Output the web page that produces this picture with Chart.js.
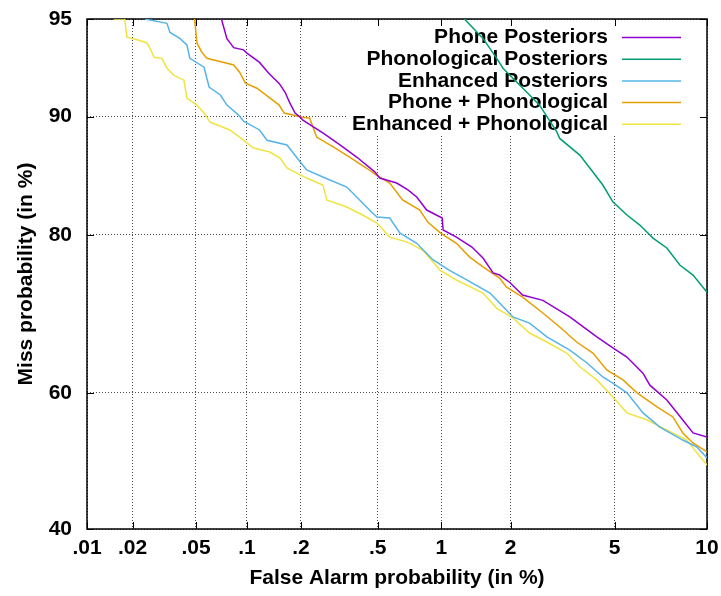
<!DOCTYPE html>
<html>
<head>
<meta charset="utf-8">
<script src="https://cdn.jsdelivr.net/npm/chart.js@4/dist/chart.umd.min.js"></script>
<style>
  html, body { margin: 0; padding: 0; background: #fff; }
  #detChart { display: block; }
</style>
</head>
<body>
<canvas id="detChart" width="721" height="596"></canvas>
<script>
// axis ticks (in %)
const xTickValues = [0.01, 0.02, 0.05, 0.1, 0.2, 0.5, 1, 2, 5, 10];
const xTickLabels = ['.01', '.02', '.05', '.1', '.2', '.5', '1', '2', '5', '10'];
const yTickValues = [40, 60, 80, 90, 95];
const yTickLabels = ['40', '60', '80', '90', '95'];

const seriesNames = ['Phone Posteriors', 'Phonological Posteriors', 'Enhanced Posteriors',
    'Phone + Phonological', 'Enhanced + Phonological'];
const seriesColors = ['#9400d3', '#009e73', '#56b4e9', '#e69f00', '#f0e442'];

// false alarm (%) / miss (%)
const phoneFA = [0.071, 0.0765, 0.0838, 0.0956, 0.1, 0.118, 0.133, 0.152, 0.164, 0.174, 0.186, 0.198,
    0.205, 0.262, 0.322, 0.392, 0.483, 0.511, 0.618, 0.7, 0.77, 0.857, 1.01, 1.02, 1.17, 1.37, 1.53,
    1.69, 1.80, 1.98, 2.24, 2.70, 3.43, 4.32, 4.93, 5.52, 6.26, 6.6, 7.5, 8.43, 9.07, 10];
const phoneMiss = [95, 94.2, 93.8, 93.7, 93.55, 93.1, 92.55, 92.0, 91.5, 90.87, 90.23, 89.97,
    89.77, 88.89, 88.02, 87.1, 85.9, 85.38, 84.95, 84.34, 83.7, 82.48, 81.7, 80.5, 79.76, 78.7, 77.5,
    75.8, 75.55, 74.7, 73.15, 72.5, 70.4, 67.8, 66.3, 65.05, 62.8, 61.1, 58.97, 56.06, 54.15, 53.55];

const phonolFA = [1.27, 1.53, 1.75, 1.86, 2.33, 2.62, 3.06, 3.14, 3.74, 4.08, 4.54, 4.93, 5.52,
    6.11, 6.76, 7.5, 8.25, 9.07, 10];
const phonolMiss = [95, 94.21, 93.3, 92.81, 91.5, 90.73, 88.96, 88.5, 87.25, 86.2, 84.78, 83.26, 82.0,
    81.0, 79.66, 78.6, 76.7, 75.55, 73.5];

const enhancedFA = [0.024, 0.0331, 0.0346, 0.0398, 0.044, 0.0459, 0.0559, 0.06, 0.07, 0.0765, 0.0895,
    0.0956, 0.118, 0.13, 0.168, 0.198, 0.215, 0.262, 0.349, 0.392, 0.455, 0.495, 0.572, 0.64, 0.77,
    0.915, 1.09, 1.30, 1.64, 1.80, 2.045, 2.39, 2.80, 3.43, 3.98, 4.54, 4.93, 5.52, 6.26, 7.12, 8.43,
    9.32, 10];
const enhancedMiss = [95, 94.83, 94.46, 94.21, 93.92, 93.3, 92.86, 91.8, 91.34, 90.73, 90.1,
    89.7, 89.1, 88.37, 88.02, 86.72, 86.06, 85.47, 84.6, 83.7, 82.48, 81.8, 81.7, 80.2, 79.1,
    77.3, 76.1, 74.97, 73.4, 72.17, 70.4, 69.6, 67.8, 66.0, 64.23, 62.27, 61.4, 60.0, 57.1, 55.0, 53.1,
    52.07, 50.45];

const phonePhonolFA = [0.049, 0.0507, 0.0543, 0.0582, 0.0735, 0.0838, 0.0907, 0.098, 0.114, 0.133,
    0.152, 0.162, 0.202, 0.223, 0.243, 0.297, 0.361, 0.44, 0.49, 0.572, 0.66, 0.796, 0.867, 0.99, 1.17,
    1.34, 1.53, 1.80, 1.92, 2.24, 2.70, 3.14, 3.64, 4.18, 4.69, 5.35, 5.98, 6.97, 7.84, 8.43, 9.07, 10];
const phonePhonolMiss = [95, 94.0, 93.58, 93.3, 93.1, 92.97, 92.6, 92.02, 91.73, 91.21,
    90.73, 90.23, 89.97, 89.9, 88.6, 87.87, 87.1, 86.2, 85.65, 84.95, 83.44, 82.48, 81.3, 80.2, 79.1,
    77.6, 76.5, 75.2, 74.13, 72.9, 70.9, 69.1, 67.1, 65.6, 63.25, 61.85, 60.0, 57.96, 56.5, 54.15, 52.67, 51.35];

const enhPhonolFA = [0.0151, 0.0178, 0.0184, 0.022, 0.0248, 0.0259, 0.0275, 0.0308, 0.0331, 0.0366,
    0.0422, 0.044, 0.0507, 0.0559, 0.0607, 0.0795, 0.0956, 0.109, 0.135, 0.154, 0.168, 0.198, 0.215,
    0.262, 0.275, 0.349, 0.42, 0.495, 0.572, 0.695, 0.82, 0.99, 1.17, 1.53, 1.75, 2.045, 2.39, 2.80,
    3.34, 3.74, 4.32, 4.93, 5.52, 6.46, 7.5, 8.68, 9.32, 10];
const enhPhonolMiss = [95, 95, 94.26, 94.13, 94.01, 93.77, 93.35, 93.3, 92.81, 92.44,
    92.18, 91.16, 90.73, 90.23, 89.64, 89.1, 88.37, 87.79, 87.49, 87.02, 86.22, 85.65, 85.38,
    84.78, 83.44, 82.77, 82.0, 81.2, 79.76, 79.23, 78.37, 76.1, 74.97, 73.4, 71.5, 70.27, 68.3, 67.1,
    65.6, 63.7, 61.85, 59.4, 57.1, 56.06, 54.6, 53.1, 51.2, 49.4];

const seriesFA = [phoneFA, phonolFA, enhancedFA, phonePhonolFA, enhPhonolFA];
const seriesMiss = [phoneMiss, phonolMiss, enhancedMiss, phonePhonolMiss, enhPhonolMiss];

const FONT = '"Liberation Sans", Arial, Helvetica, sans-serif';

/**
 * Inverse of the standard normal CDF (Acklam's approximation)
 */
function probit(p) {
    const a = [-3.969683028665376e+01, 2.209460984245205e+02, -2.759285104469687e+02,
        1.383577518672690e+02, -3.066479806614716e+01, 2.506628277459239e+00];
    const b = [-5.447609879822406e+01, 1.615858368580409e+02, -1.556989798598866e+02,
        6.680131188771972e+01, -1.328068155288572e+01];
    const c = [-7.784894002430293e-03, -3.223964580411365e-01, -2.400758277161838e+00,
        -2.549732539343734e+00, 4.374664141464968e+00, 2.938163982698783e+00];
    const d = [7.784695709041462e-03, 3.224671290700398e-01, 2.445134137142996e+00,
        3.754408661907416e+00];
    const pLow = 0.02425;
    let q, r;
    if (p < pLow) {
        q = Math.sqrt(-2 * Math.log(p));
        return (((((c[0] * q + c[1]) * q + c[2]) * q + c[3]) * q + c[4]) * q + c[5]) /
            ((((d[0] * q + d[1]) * q + d[2]) * q + d[3]) * q + 1);
    }
    if (p <= 1 - pLow) {
        q = p - 0.5;
        r = q * q;
        return (((((a[0] * r + a[1]) * r + a[2]) * r + a[3]) * r + a[4]) * r + a[5]) * q /
            (((((b[0] * r + b[1]) * r + b[2]) * r + b[3]) * r + b[4]) * r + 1);
    }
    q = Math.sqrt(-2 * Math.log(1 - p));
    return -(((((c[0] * q + c[1]) * q + c[2]) * q + c[3]) * q + c[4]) * q + c[5]) /
        ((((d[0] * q + d[1]) * q + d[2]) * q + d[3]) * q + 1);
}

const datasets = seriesNames.map((name, i) => ({
    label: name,
    data: seriesFA[i].map((fa, j) => ({ x: probit(fa / 100), y: probit(seriesMiss[i][j] / 100) })),
    borderColor: seriesColors[i],
    backgroundColor: seriesColors[i],
    borderWidth: 1.5,
    pointRadius: 0,
    tension: 0,
    fill: false
}));

// blank the grid behind the key, draw frame, inner ticks and key
const detFramePlugin = {
    id: 'detFrame',
    beforeDatasetsDraw(chart) {
        const { ctx, chartArea: ca, scales } = chart;
        ctx.save();
        // key area: grid is hidden there
        ctx.fillStyle = '#fff';
        ctx.fillRect(346, ca.top + 1, ca.right - 347, 134 - ca.top);

        // inner tick marks on all four sides
        ctx.strokeStyle = '#000';
        ctx.lineWidth = 1;
        ctx.beginPath();
        scales.x.ticks.forEach(t => {
            const px = Math.round(scales.x.getPixelForValue(t.value)) + 0.5;
            ctx.moveTo(px, ca.bottom);
            ctx.lineTo(px, ca.bottom - 7);
            ctx.moveTo(px, ca.top);
            ctx.lineTo(px, ca.top + 7);
        });
        scales.y.ticks.forEach(t => {
            const py = Math.round(scales.y.getPixelForValue(t.value)) + 0.5;
            ctx.moveTo(ca.left, py);
            ctx.lineTo(ca.left + 7, py);
            ctx.moveTo(ca.right, py);
            ctx.lineTo(ca.right - 7, py);
        });
        ctx.stroke();

        // frame
        ctx.lineWidth = 1.5;
        ctx.strokeRect(ca.left, ca.top, ca.right - ca.left, ca.bottom - ca.top);

        // key
        ctx.font = 'bold 21px ' + FONT;
        ctx.textAlign = 'right';
        ctx.textBaseline = 'middle';
        chart.data.datasets.forEach((ds, i) => {
            const rowY = 37.5 + i * 21.7;
            ctx.fillStyle = '#000';
            ctx.fillText(ds.label, 608, rowY);
            ctx.strokeStyle = ds.borderColor;
            ctx.lineWidth = 1.5;
            ctx.beginPath();
            ctx.moveTo(622, rowY);
            ctx.lineTo(681, rowY);
            ctx.stroke();
        });
        ctx.restore();
    }
};

const ctx = document.getElementById('detChart');
new Chart(ctx, {
    type: 'line',
    data: { datasets: datasets },
    options: {
        responsive: false,
        animation: false,
        devicePixelRatio: 1,
        layout: { padding: { top: 19, right: 14, left: 0, bottom: 0 } },
        plugins: {
            legend: { display: false },
            tooltip: { enabled: false }
        },
        scales: {
            x: {
                type: 'linear',
                min: probit(xTickValues[0] / 100),
                max: probit(xTickValues[xTickValues.length - 1] / 100),
                afterBuildTicks: scale => {
                    scale.ticks = xTickValues.map(v => ({ value: probit(v / 100) }));
                },
                afterFit: scale => {
                    scale.height = 67;
                    scale.paddingLeft = 0;
                    scale.paddingRight = 0;
                },
                ticks: {
                    autoSkip: false,
                    maxRotation: 0,
                    padding: 7,
                    color: '#000',
                    font: { family: FONT, size: 21, weight: 'bold' },
                    callback: (value, index) => xTickLabels[index]
                },
                grid: {
                    color: 'rgba(0,0,0,0.7)',
                    lineWidth: 1,
                    drawTicks: false
                },
                border: { display: false, dash: [1, 2] },
                title: {
                    display: true,
                    text: 'False Alarm probability (in %)',
                    color: '#000',
                    font: { family: FONT, size: 21, weight: 'bold' },
                    padding: { top: 0, bottom: 5 }
                }
            },
            y: {
                type: 'linear',
                min: probit(yTickValues[0] / 100),
                max: probit(yTickValues[yTickValues.length - 1] / 100),
                afterBuildTicks: scale => {
                    scale.ticks = yTickValues.map(v => ({ value: probit(v / 100) }));
                },
                afterFit: scale => {
                    scale.width = 87;
                    scale.paddingTop = 0;
                    scale.paddingBottom = 0;
                },
                ticks: {
                    autoSkip: false,
                    padding: 15,
                    color: '#000',
                    font: { family: FONT, size: 21, weight: 'bold' },
                    callback: (value, index) => yTickLabels[index]
                },
                grid: {
                    color: 'rgba(0,0,0,0.7)',
                    lineWidth: 1,
                    drawTicks: false
                },
                border: { display: false, dash: [1, 2] },
                title: {
                    display: true,
                    text: 'Miss probability (in %)',
                    color: '#000',
                    font: { family: FONT, size: 21, weight: 'bold' },
                    padding: { top: 14, bottom: 0 }
                }
            }
        }
    },
    plugins: [detFramePlugin]
});
</script>
</body>
</html>
